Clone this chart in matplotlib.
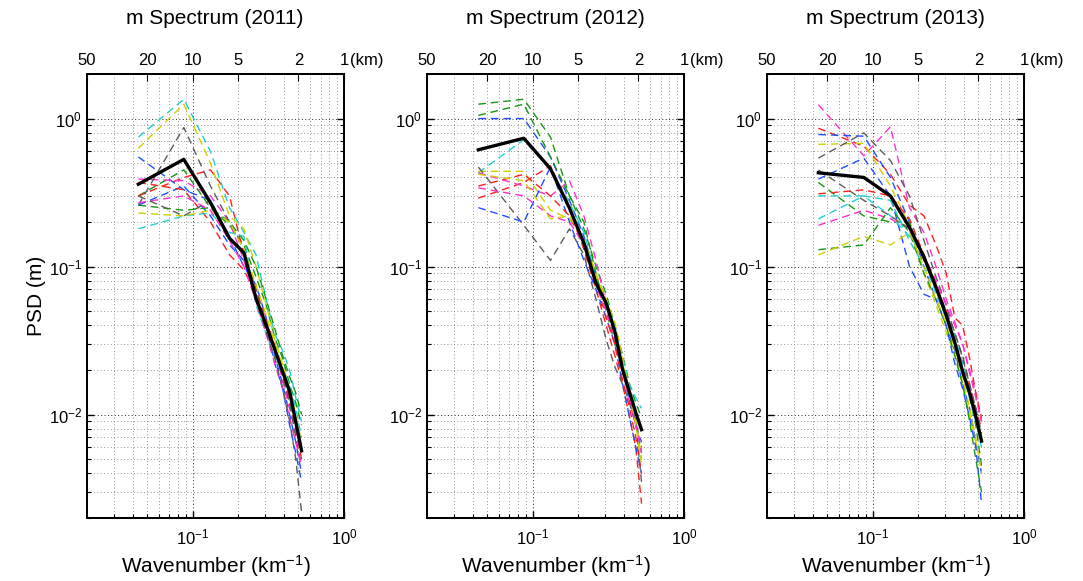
import matplotlib
matplotlib.use("Agg")
import matplotlib.pyplot as plt
import numpy as np

plt.rcParams['font.family'] = ['Liberation Sans', 'DejaVu Sans']
plt.rcParams['mathtext.fontset'] = 'custom'
plt.rcParams['mathtext.rm'] = 'Liberation Sans'
plt.rcParams['mathtext.it'] = 'Liberation Sans:italic'
plt.rcParams['axes.linewidth'] = 1.4

# wavenumber samples (km^-1)
k = [0.0437, 0.0873, 0.131, 0.175, 0.218, 0.262, 0.306, 0.349, 0.393, 0.437, 0.480, 0.524]

years = ['2011', '2012', '2013']

# colour of each dashed profile
cols_2011 = ['b', 'g', 'r', 'c', 'm', 'y', 'gray', 'b', 'g', 'r', 'c', 'm', 'y', 'gray']
cols_2012 = ['b', 'g', 'r', 'c', 'm', 'y', 'gray', 'b', 'g', 'r', 'm', 'y']
cols_2013 = ['m', 'r', 'b', 'y', 'gray', 'b', 'g', 'r', 'c', 'm', 'c', 'g', 'y', 'gray']

psd_2011 = [
    [0.55, 0.33, 0.28, 0.16, 0.10, 0.075, 0.045, 0.025, 0.016, 0.010, 0.0065, 0.0040],
    [0.30, 0.45, 0.25, 0.19, 0.14, 0.085, 0.055, 0.033, 0.024, 0.016, 0.012, 0.0085],
    [0.30, 0.40, 0.45, 0.30, 0.12, 0.070, 0.043, 0.030, 0.018, 0.012, 0.0080, 0.0050],
    [0.75, 1.35, 0.60, 0.25, 0.17, 0.12, 0.060, 0.035, 0.027, 0.020, 0.013, 0.0090],
    [0.39, 0.38, 0.30, 0.20, 0.11, 0.060, 0.038, 0.028, 0.017, 0.011, 0.0075, 0.0055],
    [0.63, 1.25, 0.50, 0.22, 0.18, 0.10, 0.055, 0.032, 0.022, 0.015, 0.010, 0.0065],
    [0.26, 0.87, 0.35, 0.20, 0.13, 0.070, 0.042, 0.027, 0.018, 0.012, 0.0070, 0.0045],
    [0.26, 0.35, 0.22, 0.14, 0.11, 0.060, 0.040, 0.022, 0.015, 0.0085, 0.0055, 0.0035],
    [0.26, 0.24, 0.25, 0.20, 0.15, 0.10, 0.060, 0.038, 0.025, 0.018, 0.014, 0.010],
    [0.37, 0.33, 0.20, 0.12, 0.095, 0.065, 0.040, 0.028, 0.019, 0.013, 0.0090, 0.0060],
    [0.18, 0.22, 0.23, 0.17, 0.16, 0.055, 0.035, 0.024, 0.020, 0.016, 0.011, 0.0070],
    [0.27, 0.30, 0.24, 0.15, 0.10, 0.058, 0.035, 0.022, 0.015, 0.0095, 0.0065, 0.0045],
    [0.23, 0.22, 0.24, 0.20, 0.13, 0.075, 0.047, 0.030, 0.021, 0.014, 0.0095, 0.0060],
    [0.30, 0.22, 0.28, 0.16, 0.12, 0.060, 0.036, 0.024, 0.015, 0.0090, 0.0050, 0.0022],
]
psd_2012 = [
    [1.0, 1.0, 0.55, 0.28, 0.16, 0.085, 0.055, 0.036, 0.020, 0.012, 0.0085, 0.0065],
    [1.25, 1.35, 0.75, 0.30, 0.18, 0.10, 0.065, 0.040, 0.025, 0.016, 0.012, 0.0095],
    [0.29, 0.37, 0.48, 0.25, 0.13, 0.070, 0.040, 0.025, 0.016, 0.0095, 0.0060, 0.0025],
    [0.43, 0.72, 0.45, 0.27, 0.17, 0.085, 0.060, 0.040, 0.024, 0.016, 0.013, 0.011],
    [0.43, 0.35, 0.30, 0.38, 0.22, 0.11, 0.055, 0.032, 0.020, 0.012, 0.0085, 0.0060],
    [0.44, 0.44, 0.24, 0.21, 0.15, 0.085, 0.060, 0.042, 0.024, 0.014, 0.0095, 0.0050],
    [0.47, 0.19, 0.11, 0.18, 0.12, 0.060, 0.032, 0.021, 0.016, 0.012, 0.0090, 0.0035],
    [0.25, 0.20, 0.47, 0.20, 0.11, 0.070, 0.045, 0.030, 0.016, 0.0095, 0.0060, 0.0040],
    [1.05, 1.25, 0.55, 0.30, 0.20, 0.090, 0.050, 0.030, 0.020, 0.013, 0.0090, 0.0055],
    [0.35, 0.42, 0.30, 0.22, 0.14, 0.080, 0.045, 0.030, 0.017, 0.011, 0.0070, 0.0040],
    [0.34, 0.30, 0.22, 0.20, 0.14, 0.075, 0.050, 0.033, 0.020, 0.013, 0.0085, 0.0055],
    [0.42, 0.38, 0.21, 0.22, 0.15, 0.090, 0.060, 0.038, 0.022, 0.014, 0.0085, 0.0045],
]
psd_2013 = [
    [1.24, 0.56, 0.88, 0.25, 0.17, 0.10, 0.060, 0.042, 0.030, 0.020, 0.014, 0.0090],
    [0.86, 0.65, 0.42, 0.26, 0.22, 0.14, 0.090, 0.045, 0.040, 0.024, 0.014, 0.0095],
    [0.78, 0.76, 0.40, 0.20, 0.10, 0.060, 0.040, 0.027, 0.016, 0.011, 0.0065, 0.0040],
    [0.67, 0.68, 0.35, 0.19, 0.090, 0.055, 0.036, 0.025, 0.016, 0.010, 0.0065, 0.0045],
    [0.54, 0.80, 0.52, 0.30, 0.15, 0.085, 0.055, 0.035, 0.025, 0.016, 0.011, 0.0070],
    [0.39, 0.54, 0.30, 0.10, 0.065, 0.060, 0.040, 0.022, 0.015, 0.0095, 0.0060, 0.0025],
    [0.37, 0.22, 0.20, 0.20, 0.11, 0.070, 0.045, 0.030, 0.020, 0.013, 0.0085, 0.0045],
    [0.31, 0.33, 0.30, 0.21, 0.12, 0.075, 0.050, 0.032, 0.022, 0.015, 0.011, 0.0080],
    [0.30, 0.30, 0.22, 0.16, 0.12, 0.065, 0.045, 0.030, 0.020, 0.013, 0.0090, 0.0060],
    [0.19, 0.24, 0.21, 0.18, 0.12, 0.080, 0.055, 0.040, 0.030, 0.019, 0.013, 0.0090],
    [0.21, 0.30, 0.28, 0.15, 0.10, 0.070, 0.048, 0.033, 0.022, 0.014, 0.010, 0.0070],
    [0.13, 0.14, 0.25, 0.17, 0.090, 0.060, 0.040, 0.025, 0.016, 0.0090, 0.0050, 0.0030],
    [0.12, 0.16, 0.14, 0.17, 0.10, 0.060, 0.042, 0.028, 0.018, 0.011, 0.0070, 0.0040],
    [0.45, 0.28, 0.22, 0.18, 0.12, 0.075, 0.050, 0.036, 0.024, 0.016, 0.011, 0.0075],
]

# mean spectrum (thick black)
mean_2011 = [0.36, 0.53, 0.27, 0.155, 0.124, 0.061, 0.040, 0.0275, 0.0195, 0.0143, 0.0089, 0.0057]
mean_2012 = [0.615, 0.736, 0.458, 0.248, 0.144, 0.077, 0.0565, 0.0364, 0.0201, 0.0141, 0.0103, 0.0079]
mean_2013 = [0.43, 0.40, 0.30, 0.184, 0.116, 0.0726, 0.0469, 0.0306, 0.0195, 0.0140, 0.00975, 0.00662]

top_km = [50, 20, 10, 5, 2, 1]
top_labels = ['50', '20', '10', '5', '2', '1']

colmap = {'b': '#1f4fff', 'g': '#169616', 'r': '#ff1f1f', 'c': '#1fcfcf',
          'm': '#ff2fd0', 'y': '#cfcf00', 'gray': '#5c5c5c'}

all_psd = [psd_2011, psd_2012, psd_2013]
all_cols = [cols_2011, cols_2012, cols_2013]
all_mean = [mean_2011, mean_2012, mean_2013]

fig = plt.figure(figsize=(10.83, 5.81), dpi=100)

lefts = [87, 427, 767]
for i in range(3):
    ax = fig.add_axes([lefts[i] / 1083, 1 - 518 / 581, 257 / 1083, 444 / 581])
    for prof, c in zip(all_psd[i], all_cols[i]):
        ax.plot(k, prof, color=colmap[c], lw=1.0, ls=(0, (5.5, 3.5)))
    ax.plot(k, all_mean[i], color='k', lw=2.4)
    ax.set_xscale('log')
    ax.set_yscale('log')
    ax.set_xlim(0.02, 1)
    ax.set_ylim(0.002, 2)
    ax.grid(True, which='major', color='0.15', ls=(0, (1, 2.5)), lw=0.7)
    ax.grid(True, which='minor', color='0.45', ls=(0, (1, 3)), lw=0.6)
    ax.tick_params(which='both', direction='in', top=False, right=True, labelsize=12)
    ax.tick_params(which='major', length=5, width=1)
    ax.tick_params(which='minor', length=3, width=0.8)
    ax.tick_params(axis='x', pad=7)
    ax.set_xlabel('Wavenumber (km$^{-1}$)', fontsize=15, labelpad=4)
    if i == 0:
        ax.set_ylabel('PSD (m)', fontsize=15, labelpad=2)

    ax2 = ax.twiny()
    ax2.set_xscale('log')
    ax2.set_xlim(0.02, 1)
    ax2.set_xticks([1.0 / w for w in top_km])
    ax2.set_xticklabels(top_labels)
    ax2.xaxis.set_minor_locator(matplotlib.ticker.NullLocator())
    ax2.tick_params(direction='in', length=5, labelsize=12, pad=4)
    ax2.annotate('(km)', xy=(1, 1), xycoords='axes fraction', xytext=(4, 4),
                 textcoords='offset points', ha='left', va='bottom', fontsize=12)

    fig.text((lefts[i] + 128) / 1083, 1 - 18 / 581, 'm Spectrum (' + years[i] + ')',
             ha='center', va='center', fontsize=15)

fig.savefig('out.png', dpi=100)
